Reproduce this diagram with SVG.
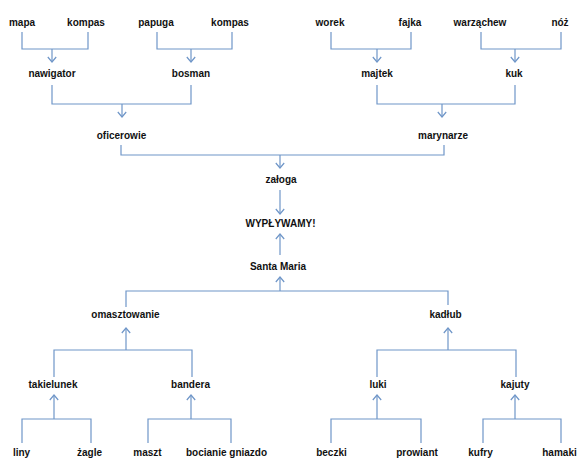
<svg xmlns="http://www.w3.org/2000/svg" width="578" height="458" viewBox="0 0 578 458">
<defs>
<marker id="ah" markerUnits="userSpaceOnUse" markerWidth="12" markerHeight="12" viewBox="-7 -6 8 12" refX="0" refY="0" orient="auto">
<path d="M-5,-4.2 L0,0 L-5,4.2" fill="none" stroke="#6f96c8" stroke-width="1.2"/>
</marker>
<style>
text{font-family:"Liberation Sans",Arial,sans-serif;font-weight:bold;font-size:10px;fill:#111;text-anchor:middle}
.c path,.c line{fill:none;stroke:#6f96c8;stroke-width:1.2}
.c line.a{marker-end:url(#ah)}
</style>
</defs>
<rect width="578" height="458" fill="#fff"/>
<g class="c" id="connectors">
<path d="M22,32 V49 H88 V32"/><line class="a" x1="52" y1="49" x2="52" y2="62"/>
<path d="M157,32 V49 H232 V32"/><line class="a" x1="191" y1="49" x2="191" y2="62"/>
<path d="M331,32 V49 H411 V32"/><line class="a" x1="377" y1="49" x2="377" y2="62"/>
<path d="M481,32 V49 H561 V32"/><line class="a" x1="515" y1="49" x2="515" y2="62"/>
<path d="M52,85 V104 H191 V85"/><line class="a" x1="122" y1="104" x2="122" y2="117"/>
<path d="M377,85 V104 H515 V85"/><line class="a" x1="442" y1="104" x2="442" y2="117"/>
<path d="M121,145 V155 H444 V145"/><line class="a" x1="280" y1="155" x2="280" y2="168"/>
<line class="a" x1="280" y1="190" x2="280" y2="214"/>
<line class="a" x1="280" y1="255" x2="280" y2="234"/>
<path d="M126,307 V291 H448 V305"/><line class="a" x1="280" y1="291" x2="280" y2="277"/>
<path d="M54,377 V350 H192 V377"/><line class="a" x1="126" y1="350" x2="126" y2="328"/>
<path d="M377,377 V350 H516 V377"/><line class="a" x1="448" y1="350" x2="448" y2="328"/>
<path d="M22,443 V419 H91 V443"/><line class="a" x1="54" y1="419" x2="54" y2="395"/>
<path d="M148,443 V419 H231 V443"/><line class="a" x1="191" y1="419" x2="191" y2="395"/>
<path d="M331,443 V419 H421 V443"/><line class="a" x1="377" y1="419" x2="377" y2="395"/>
<path d="M483,443 V419 H561 V443"/><line class="a" x1="515" y1="419" x2="515" y2="395"/>
</g>
<g id="n-mapa"><text x="22" y="25.5">mapa</text></g>
<g id="n-kompas1"><text x="86" y="25.5">kompas</text></g>
<g id="n-papuga"><text x="156" y="25.5">papuga</text></g>
<g id="n-kompas2"><text x="230" y="25.5">kompas</text></g>
<g id="n-worek"><text x="330" y="25.5">worek</text></g>
<g id="n-fajka"><text x="410" y="25.5">fajka</text></g>
<g id="n-warzachew"><text x="480" y="25.5">warząchew</text></g>
<g id="n-noz"><text x="560" y="25.5">nóż</text></g>
<g id="n-nawigator"><text x="52" y="77">nawigator</text></g>
<g id="n-bosman"><text x="191" y="77">bosman</text></g>
<g id="n-majtek"><text x="377" y="77">majtek</text></g>
<g id="n-kuk"><text x="514" y="77">kuk</text></g>
<g id="n-oficerowie"><text x="121.5" y="139">oficerowie</text></g>
<g id="n-marynarze"><text x="443" y="139">marynarze</text></g>
<g id="n-zaloga"><text x="281" y="183">załoga</text></g>
<g id="n-wyplywamy"><text x="280.5" y="227">WYPŁYWAMY!</text></g>
<g id="n-santamaria"><text x="278" y="270">Santa Maria</text></g>
<g id="n-omasztowanie"><text x="125.5" y="318">omasztowanie</text></g>
<g id="n-kadlub"><text x="445.5" y="318">kadłub</text></g>
<g id="n-takielunek"><text x="53" y="388">takielunek</text></g>
<g id="n-bandera"><text x="190.5" y="388">bandera</text></g>
<g id="n-luki"><text x="378" y="388">luki</text></g>
<g id="n-kajuty"><text x="515" y="388">kajuty</text></g>
<g id="n-liny"><text x="21.5" y="456">liny</text></g>
<g id="n-zagle"><text x="89.5" y="456">żagle</text></g>
<g id="n-maszt"><text x="147.5" y="456">maszt</text></g>
<g id="n-bocianie"><text x="226.5" y="456">bocianie gniazdo</text></g>
<g id="n-beczki"><text x="331.5" y="456">beczki</text></g>
<g id="n-prowiant"><text x="417" y="456">prowiant</text></g>
<g id="n-kufry"><text x="480.5" y="456">kufry</text></g>
<g id="n-hamaki"><text x="559.5" y="456">hamaki</text></g>
</svg>
